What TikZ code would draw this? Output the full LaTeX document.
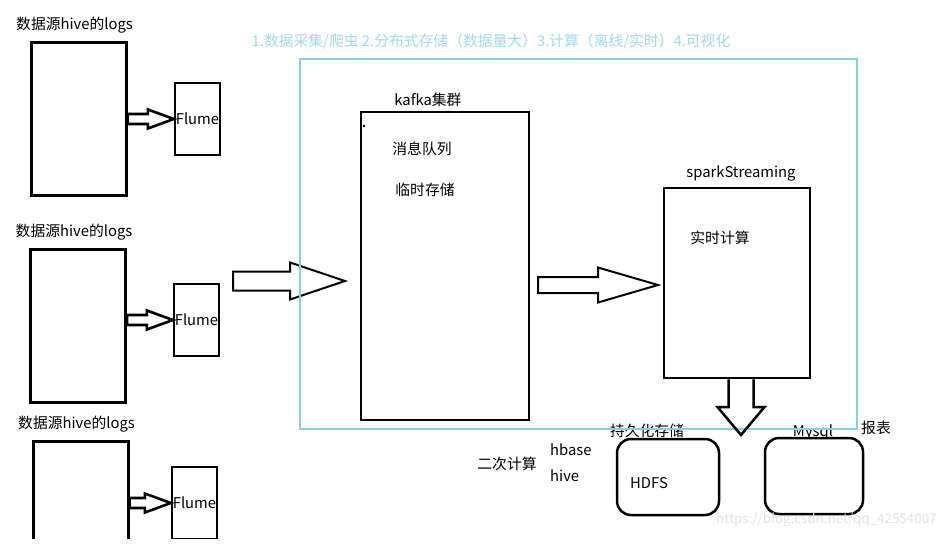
\documentclass[tikz,border=0pt]{standalone}
\usepackage{fontspec}
\setmainfont{Noto Sans CJK SC}
\usepackage{xcolor}
\definecolor{framecyan}{RGB}{137,207,224}
\definecolor{titlecyan}{RGB}{160,216,235}
\definecolor{markgray}{RGB}{226,226,226}
\usepackage{tikz}
\usetikzlibrary{calc, positioning}

\tikzset{
  lbl/.style={font=\fontsize{14.8}{17}\selectfont, inner sep=0pt},
  srcbox/.style={draw, line width=3pt, minimum width=95pt, minimum height=153pt, inner sep=0pt},
  flumebox/.style={draw, line width=2.3pt, minimum width=45pt, minimum height=72pt, inner sep=0pt, lbl},
  fat/.style={draw, line width=2.5pt, line join=miter},
  storebox/.style={draw, line width=2.5pt, rounded corners=14pt, fill=white, inner sep=0pt},
}

% outlined block arrow: [style]{from}{tip}{shaft half}{head half}{head length}
\newcommand{\fatarrow}[6][]{%
  \draw[fat,#1] let \p1=(#2), \p2=(#3) in
    (\x1,{\y2+#4}) -- ({\x2-#6},{\y2+#4}) -- ({\x2-#6},{\y2+#5})
    -- (\x2,\y2) -- ({\x2-#6},{\y2-#5}) -- ({\x2-#6},{\y2-#4})
    -- (\x1,{\y2-#4}) -- cycle;}

\begin{document}
\begin{tikzpicture}[x=1pt, y=-1pt]
    \useasboundingbox (0,0) rectangle (951,552);
    \begin{scope}
    \clip (0,0) rectangle (951,538);

    % the three log sources, each with its Flume agent
    \foreach \i/\bx/\by/\fx/\fy in {1/78.5/118.5/197.5/119, 2/78/325.5/196.5/320, 3/80.5/517.5/194.5/503} {
        \node[srcbox] (src\i) at (\bx,\by) {};
        \node[lbl] (lab\i) at ([shift={(-4,-15)}]src\i.north) {数据源hive的logs};
        \node[flumebox] (flume\i) at (\fx,\fy) {Flume};
        \fatarrow[line width=2.6pt]{src\i.east}{flume\i.west}{5pt}{9.5pt}{26pt}
    }

    \node[lbl, text=titlecyan] (title) at (491,41) {1.数据采集/爬虫 2.分布式存储（数据量大）3.计算（离线/实时）4.可视化};

    % kafka
    \node[draw, line width=2pt, minimum width=168pt, minimum height=308pt, inner sep=0pt] (kafka) at (445,266) {};
    \node[lbl] (kafkalab) at (428,100) {kafka集群};
    \node[lbl] (queue) at (422,149) {消息队列};
    \node[lbl] (tmpstore) at (425,190) {临时存储};
    \fill (364,126) circle (1.3pt);

    % spark streaming
    \node[draw, line width=2.5pt, minimum width=146pt, minimum height=190pt, inner sep=0pt] (spark) at (737,283) {};
    \node[lbl] (sparklab) at (741,173) {sparkStreaming};
    \node[lbl] (realtime) at (720,238) {实时计算};

    \coordinate (kin0) at (233,281);
    \coordinate (kin1) at (345,281);
    \fatarrow[line width=2pt]{kin0}{kin1}{9.5pt}{18.5pt}{55pt}
    \coordinate (kout0) at (538,285);
    \coordinate (kout1) at (658,285);
    \fatarrow[line width=2pt]{kout0}{kout1}{8pt}{17.5pt}{60pt}

    % persistence
    \node[lbl] (persist) at (647,431) {持久化存储};
    \node[lbl] (mysqllab) at (813,432) {Mysql};
    \node[lbl] (report) at (876,428) {报表};
    \node[lbl] (second) at (507,464) {二次计算};
    \node[lbl, anchor=west] (hbase) at (550,450) {hbase};
    \node[lbl, anchor=west] (hive) at (550,476) {hive};

    \draw[framecyan, line width=2.5pt] (300,59) rectangle (857,429);

    \coordinate (down) at (741,435);
    \draw[fat] let \p1=(spark.south), \p2=(down) in
        ({\x2-12.5pt},\y1) -- ({\x2-12.5pt},{\y2+28pt}) -- ({\x2-23.5pt},{\y2+28pt})
        -- (\x2,\y2) -- ({\x2+23.5pt},{\y2+28pt}) -- ({\x2+12.5pt},{\y2+28pt})
        -- ({\x2+12.5pt},\y1);

    \node[storebox, minimum width=102pt, minimum height=76pt] (hdfs) at (668,477) {};
    \node[lbl] (hdfslab) at (649,483) {HDFS};
    \node[storebox, minimum width=98pt, minimum height=76pt] (mysql) at (814,476) {};

    \node[lbl, font=\fontsize{13.4}{16}\selectfont, text=markgray, anchor=west] (mark) at (716,520) {https://blog.csdn.net/qq\_42554007};
    \end{scope}
\end{tikzpicture}
\end{document}
